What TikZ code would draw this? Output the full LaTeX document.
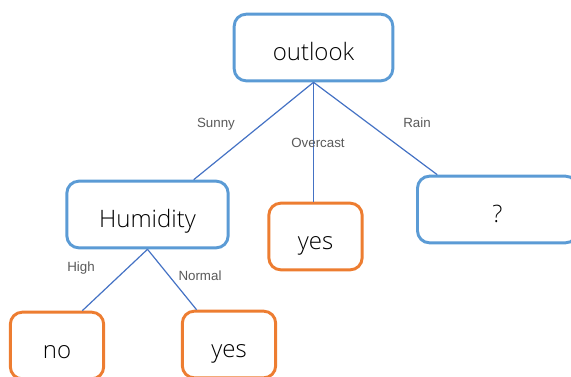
\documentclass[tikz,border=0pt]{standalone}
\usepackage{fontspec}
\setmainfont{Open Sans Light}
\newfontfamily\labelfont{Liberation Sans}
\definecolor{boxblue}{HTML}{5B9BD5}
\definecolor{leaforange}{HTML}{ED7D31}
\definecolor{edgeblue}{HTML}{4472C4}
\definecolor{labelgray}{HTML}{595959}
\tikzset{
  testbox/.style={draw=boxblue,line width=2.2pt,rounded corners=9pt,fill=white,
    minimum height=50pt,text height=19.5pt,text depth=0pt,
    font=\fontsize{18}{20}\selectfont},
  leafbox/.style={testbox,draw=leaforange,minimum width=70pt},
  branch/.style={draw=edgeblue,line width=0.9pt},
  branchlabel/.style={text=labelgray,font=\labelfont\fontsize{10}{11}\selectfont}
}
\begin{document}
\begin{tikzpicture}[x=0.75pt,y=-0.75pt]
  \useasboundingbox (0,0) rectangle (571,376);
  \clip (0,0) rectangle (571,376);
  % decision nodes
  \node[testbox,minimum width=119pt] (outlook) at (313.5,47.5) {outlook};
  \node[testbox,minimum width=121pt] (humid) at (147.5,214.5) {Humidity};
  \node[testbox,minimum width=120pt] (rain) at (497.5,209.5) {?};
  % leaves
  \node[leafbox] (over) at (315.5,236.5) {yes};
  \node[leafbox] (no) at (57,345.5) {no};
  \node[leafbox] (normal) at (229,344.5) {yes};
  % branches
  \draw[branch] (outlook.south) -- (humid.37);
  \draw[branch] (outlook.south) -- (outlook.south |- over.north);
  \draw[branch] (outlook.south) -- (rain.150);
  \draw[branch] (humid.south) -- (no.54);
  \draw[branch] (humid.south) -- (normal.133);
  % branch labels
  \node[branchlabel] (sunny) at (216,124) {Sunny};
  \node[branchlabel] (ovlab) at (318,143) {Overcast};
  \node[branchlabel] (rainlab) at (417,123) {Rain};
  \node[branchlabel] (high) at (81,268) {High};
  \node[branchlabel] (normlab) at (200,276) {Normal};
\end{tikzpicture}
\end{document}
